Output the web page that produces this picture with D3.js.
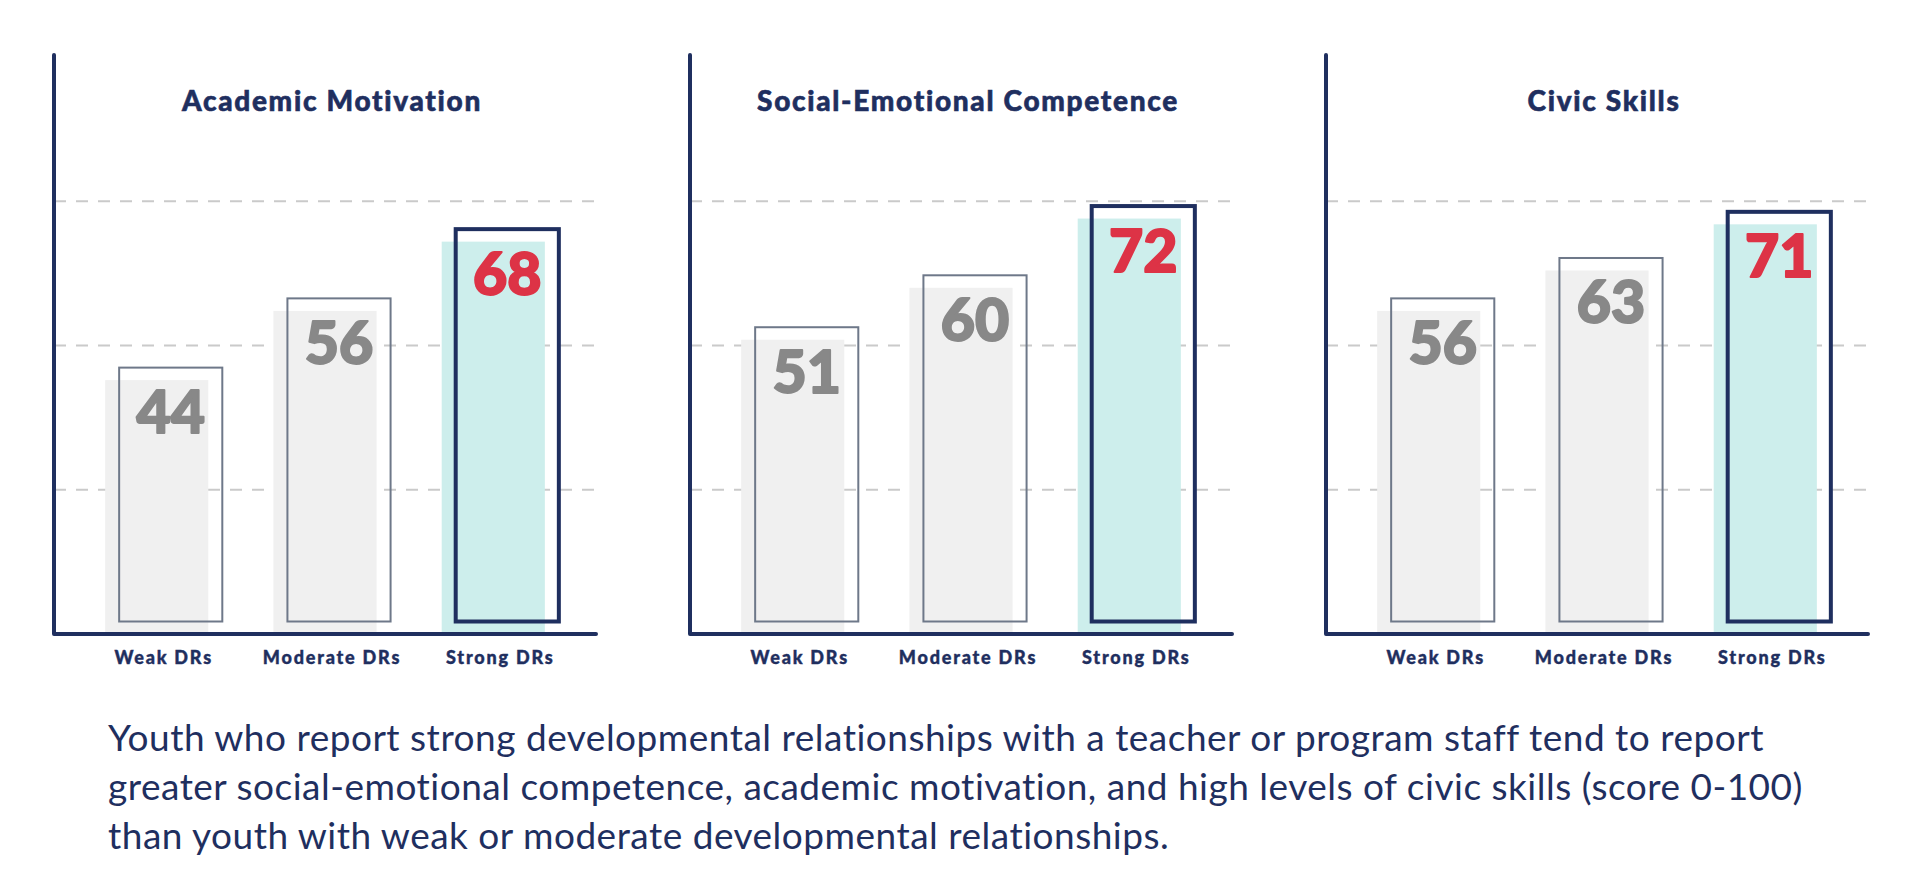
<!DOCTYPE html>
<html>
<head>
<meta charset="utf-8">
<script src="https://cdn.jsdelivr.net/npm/d3@7"></script>
<style>
  html, body { margin: 0; padding: 0; background: #ffffff; }
  svg { display: block; }
</style>
</head>
<body>
<svg id="chart" width="1920" height="883"></svg>
<script>
// ---- data ----
const panelTitles = ["Academic Motivation", "Social-Emotional Competence", "Civic Skills"];
const categories = ["Weak DRs", "Moderate DRs", "Strong DRs"];
const academicMotivation = [44, 56, 68];
const socialEmotionalCompetence = [51, 60, 72];
const civicSkills = [56, 63, 71];
const gridTicks = [25, 50, 75];
const captionLines = [
  "Youth who report strong developmental relationships with a teacher or program staff tend to report",
  "greater social-emotional competence, academic motivation, and high levels of civic skills (score 0-100)",
  "than youth with weak or moderate developmental relationships."
];

const panelValues = [academicMotivation, socialEmotionalCompetence, civicSkills];

// ---- style / layout ----
const navy = "#1f2f5f";
const svg = d3.select("#chart");
const panelLeft0 = 54, panelStep = 636, panelWidth = 542;
const baseY = 634, topY = 57;
const offX = 14, offY = -12.5;

const y = d3.scaleLinear().domain([0, 100]).range([baseY, topY]);

panelValues.forEach((vals, i) => {
  const x0 = panelLeft0 + i * panelStep;
  const g = svg.append("g");
  const x = d3.scaleBand().domain(categories).range([x0, x0 + panelWidth])
    .paddingInner(0.387).paddingOuter(0.304);

  // gridlines
  g.selectAll("line.grid").data(gridTicks).join("line")
    .attr("x1", x0).attr("x2", x0 + panelWidth)
    .attr("y1", d => y(d)).attr("y2", d => y(d))
    .attr("stroke", "#cacaca").attr("stroke-width", 2)
    .attr("stroke-dasharray", "12,10");

  // filled bars
  g.selectAll("rect.fill").data(vals).join("rect")
    .attr("x", (d, j) => x(categories[j]))
    .attr("y", d => y(d))
    .attr("width", x.bandwidth())
    .attr("height", d => y(0) - y(d))
    .attr("fill", (d, j) => j === 2 ? "#cdeeec" : "#f0f0f0");

  // outline boxes (offset)
  g.selectAll("rect.outline").data(vals).join("rect")
    .attr("x", (d, j) => x(categories[j]) + offX)
    .attr("y", d => y(d) + offY)
    .attr("width", x.bandwidth())
    .attr("height", d => y(0) - y(d))
    .attr("fill", "none")
    .attr("stroke", (d, j) => j === 2 ? navy : "#6e7889")
    .attr("stroke-width", (d, j) => j === 2 ? 4 : 2);

  // value labels
  g.selectAll("text.val").data(vals).join("text")
    .attr("x", (d, j) => x(categories[j]) + offX + x.bandwidth() / 2)
    .attr("y", d => y(d) + 53)
    .attr("text-anchor", "middle")
    .attr("font-family", "Lato, sans-serif")
    .attr("font-weight", 900)
    .attr("font-size", 59)
    .attr("fill", (d, j) => j === 2 ? "#dd3346" : "#888888")
    .attr("stroke", (d, j) => j === 2 ? "#dd3346" : "#888888")
    .attr("stroke-width", 2)
    .attr("stroke-linejoin", "round")
    .text(d => d);

  // axes (L shape)
  g.append("path")
    .attr("d", `M${x0},${topY - 2} L${x0},${baseY} L${x0 + panelWidth},${baseY}`)
    .attr("fill", "none").attr("stroke", navy).attr("stroke-width", 4)
    .attr("stroke-linejoin", "round").attr("stroke-linecap", "round");

  // category labels
  g.selectAll("text.cat").data(categories).join("text")
    .attr("x", d => x(d) + (x.bandwidth() + offX) / 2)
    .attr("y", 664)
    .attr("text-anchor", "middle")
    .attr("font-family", "Lato, sans-serif")
    .attr("font-weight", 900)
    .attr("font-size", 18)
    .attr("letter-spacing", 1.8)
    .attr("fill", navy)
    .attr("stroke", navy)
    .attr("stroke-width", 0.4)
    .text(d => d);

  // title
  const tx = (x(categories[0]) + x(categories[2]) + x.bandwidth() + offX) / 2;
  g.append("text")
    .attr("x", tx).attr("y", 111)
    .attr("text-anchor", "middle")
    .attr("font-family", "Lato, sans-serif")
    .attr("font-weight", 900)
    .attr("font-size", 28)
    .attr("letter-spacing", 1.7)
    .attr("fill", navy)
    .attr("stroke", navy)
    .attr("stroke-width", 0.6)
    .text(panelTitles[i]);
});

// caption
svg.append("g").selectAll("text").data(captionLines).join("text")
  .attr("x", 108)
  .attr("y", (d, i) => 751 + i * 49)
  .attr("font-family", "Lato, sans-serif")
  .attr("font-size", 37)
  .attr("letter-spacing", 0.5)
  .attr("fill", navy)
  .text(d => d);
</script>
</body>
</html>
